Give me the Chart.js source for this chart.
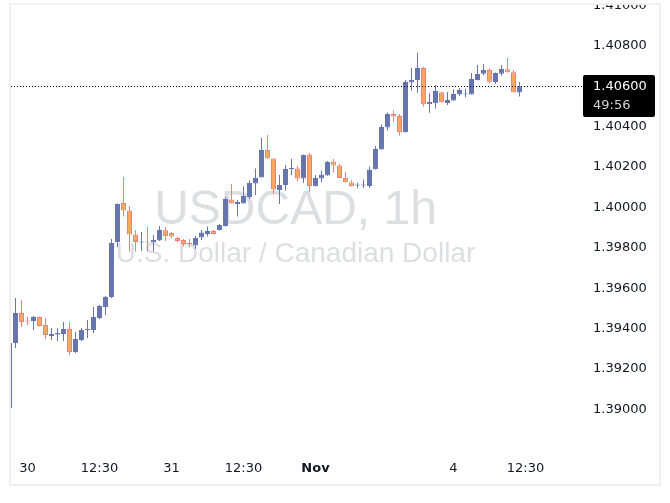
<!DOCTYPE html>
<html>
<head>
<meta charset="utf-8">
<title>USDCAD, 1h</title>
<script src="https://cdn.jsdelivr.net/npm/chart.js@4.4.1/dist/chart.umd.min.js"></script>
<style>
  html, body { margin: 0; padding: 0; background: #fff; }
  #frame { position: absolute; left: 9px; top: 3px; width: 648px; height: 479px; border: 2px solid #efefef; }
  #frame canvas { display: block; }
</style>
</head>
<body>
<div id="frame"><canvas id="chart" width="648" height="479"></canvas></div>
<script>
  'use strict';

  // hourly candles, oldest first
  var opens = [
    1.39008, 1.39329, 1.39478, 1.39441, 1.39438, 1.39458, 1.39418, 1.39364, 1.39371, 1.39374,
    1.39399, 1.39285, 1.39344, 1.39394, 1.39394, 1.39453, 1.39508, 1.39557, 1.39829, 1.40022,
    1.39985, 1.39866, 1.39827, 1.39829, 1.39827, 1.39837, 1.39887, 1.39874, 1.39849, 1.39839,
    1.39822, 1.39812, 1.39852, 1.39869, 1.39884, 1.39889, 1.39908, 1.40040, 1.40017, 1.40020,
    1.40052, 1.40119, 1.40149, 1.40285, 1.40243, 1.40087, 1.40111, 1.40191, 1.40193, 1.40144,
    1.40262, 1.40107, 1.40144, 1.40158, 1.40228, 1.40208, 1.40146, 1.40124, 1.40109, 1.40109,
    1.40107, 1.40189, 1.40287, 1.40396, 1.40463, 1.40453, 1.40372, 1.40619, 1.40631, 1.40691,
    1.40511, 1.40516, 1.40570, 1.40517, 1.40530, 1.40559, 1.40560, 1.40560, 1.40631, 1.40662,
    1.40681, 1.40621, 1.40662, 1.40684, 1.40669, 1.40569
  ];
  var highs = [
    1.39339, 1.39552, 1.39542, 1.39458, 1.39463, 1.39460, 1.39453, 1.39404, 1.39404, 1.39433,
    1.39433, 1.39384, 1.39404, 1.39443, 1.39508, 1.39517, 1.39562, 1.39844, 1.40020, 1.40151,
    1.40007, 1.39889, 1.39879, 1.39906, 1.39864, 1.39908, 1.39904, 1.39879, 1.39857, 1.39844,
    1.39844, 1.39859, 1.39889, 1.39906, 1.39889, 1.39918, 1.40052, 1.40116, 1.40037, 1.40104,
    1.40134, 1.40193, 1.40347, 1.40359, 1.40243, 1.40161, 1.40210, 1.40240, 1.40205, 1.40262,
    1.40270, 1.40161, 1.40183, 1.40230, 1.40240, 1.40215, 1.40176, 1.40135, 1.40124, 1.40139,
    1.40203, 1.40305, 1.40411, 1.40470, 1.40480, 1.40463, 1.40631, 1.40692, 1.40766, 1.40697,
    1.40565, 1.40606, 1.40572, 1.40572, 1.40585, 1.40592, 1.40588, 1.40666, 1.40705, 1.40710,
    1.40689, 1.40668, 1.40705, 1.40740, 1.40681, 1.40621
  ];
  var lows = [
    1.39003, 1.39305, 1.39409, 1.39418, 1.39394, 1.39411, 1.39349, 1.39344, 1.39339, 1.39339,
    1.39270, 1.39280, 1.39339, 1.39354, 1.39379, 1.39448, 1.39468, 1.39552, 1.39805, 1.39956,
    1.39782, 1.39782, 1.39785, 1.39782, 1.39782, 1.39834, 1.39834, 1.39849, 1.39829, 1.39807,
    1.39802, 1.39795, 1.39839, 1.39857, 1.39866, 1.39886, 1.39906, 1.40020, 1.39956, 1.40020,
    1.40042, 1.40062, 1.40148, 1.40243, 1.40067, 1.40017, 1.40084, 1.40161, 1.40129, 1.40121,
    1.40074, 1.40104, 1.40124, 1.40157, 1.40173, 1.40146, 1.40124, 1.40104, 1.40095, 1.40097,
    1.40097, 1.40188, 1.40286, 1.40381, 1.40423, 1.40356, 1.40371, 1.40578, 1.40568, 1.40499,
    1.40469, 1.40489, 1.40520, 1.40507, 1.40529, 1.40553, 1.40546, 1.40559, 1.40630, 1.40656,
    1.40615, 1.40611, 1.40652, 1.40668, 1.40569, 1.40549
  ];
  var closes = [
    1.39329, 1.39478, 1.39433, 1.39436, 1.39458, 1.39413, 1.39369, 1.39374, 1.39379, 1.39399,
    1.39285, 1.39349, 1.39394, 1.39399, 1.39458, 1.39512, 1.39557, 1.39824, 1.40017, 1.39985,
    1.39866, 1.39829, 1.39829, 1.39827, 1.39839, 1.39889, 1.39858, 1.39857, 1.39834, 1.39819,
    1.39819, 1.39849, 1.39876, 1.39884, 1.39869, 1.39913, 1.40042, 1.40020, 1.40027, 1.40057,
    1.40121, 1.40146, 1.40285, 1.40243, 1.40089, 1.40111, 1.40191, 1.40193, 1.40144, 1.40260,
    1.40107, 1.40146, 1.40163, 1.40225, 1.40208, 1.40146, 1.40125, 1.40105, 1.40111, 1.40111,
    1.40188, 1.40290, 1.40399, 1.40463, 1.40451, 1.40372, 1.40621, 1.40631, 1.40691, 1.40511,
    1.40522, 1.40577, 1.40521, 1.40532, 1.40562, 1.40582, 1.40562, 1.40636, 1.40661, 1.40681,
    1.40623, 1.40666, 1.40686, 1.40669, 1.40570, 1.40600
  ];

  // time axis: bar index of each label
  var tickIndex = [3, 15, 27, 39, 51, 74, 86];
  var tickLabels = ['30', '12:30', '31', '12:30', 'Nov', '4', '12:30'];
  var priceTicks = [1.390, 1.392, 1.394, 1.396, 1.398, 1.400, 1.402, 1.404, 1.406, 1.408, 1.410];

  var symbolTitle = 'USDCAD, 1h';
  var symbolName = 'U.S. Dollar / Canadian Dollar';
  var countdown = '49:56';

  var UP = '#6675AD';
  var DOWN_FILL = '#F9A95C';
  var DOWN_LINE = '#F47C80';
  var TXT = '#131722';
  var FONT = '"DejaVu Sans", sans-serif';

  var isUp = closes.map(function(c, i) { return c >= opens[i]; });

  var bodies = opens.map(function(o, i) {
    return { x: i, y: [Math.min(o, closes[i]), Math.max(o, closes[i])] };
  });
  var wicks = lows.map(function(l, i) {
    return { x: i, y: [l, highs[i]] };
  });

  var overlay = {
    id: 'overlay',
    beforeDatasetsDraw: function(chart) {
      var a = chart.chartArea;
      var c = chart.ctx;
      var cx = (a.left + a.right) / 2;
      c.save();
      c.fillStyle = '#dddee2';
      c.textAlign = 'center';
      c.textBaseline = 'alphabetic';
      c.font = '48px "Liberation Sans", Arial, sans-serif';
      c.fillText(symbolTitle, cx, 219);
      c.font = '28px "Liberation Sans", Arial, sans-serif';
      c.fillText(symbolName, cx, 257);
      c.restore();
    },
    afterDraw: function(chart) {
      var a = chart.chartArea;
      var c = chart.ctx;
      var last = closes[closes.length - 1];
      var y = Math.round(chart.scales.y.getPixelForValue(last)) + 0.5;
      var boxLeft = a.right + 3;

      c.save();
      c.strokeStyle = '#000';
      c.lineWidth = 1;
      c.setLineDash([1, 2]);
      c.beginPath();
      c.moveTo(a.left, y);
      c.lineTo(boxLeft, y);
      c.stroke();
      c.setLineDash([]);

      c.fillStyle = '#000';
      c.beginPath();
      c.roundRect(boxLeft, y - 11.5, 72, 42, 2);
      c.fill();

      c.textAlign = 'left';
      c.textBaseline = 'middle';
      c.fillStyle = '#fff';
      c.font = '13px ' + FONT;
      c.fillText(last.toFixed(5), a.right + 13, y);
      c.fillStyle = '#d1d4dc';
      c.fillText(countdown, a.right + 13, y + 19);
      c.restore();
    }
  };

  new Chart(document.getElementById('chart'), {
    type: 'bar',
    data: {
      datasets: [
        {
          label: 'body',
          data: bodies,
          backgroundColor: isUp.map(function(u) { return u ? UP : DOWN_FILL; }),
          borderColor: isUp.map(function(u) { return u ? UP : DOWN_LINE; }),
          borderWidth: 1,
          borderSkipped: false,
          barThickness: 5,
          minBarLength: 1,
          inflateAmount: 0,
          grouped: false,
          order: 0
        },
        {
          label: 'wick',
          data: wicks,
          backgroundColor: isUp.map(function(u) { return u ? UP : DOWN_LINE; }),
          borderWidth: 0,
          barThickness: 1,
          inflateAmount: 0,
          grouped: false,
          order: 1
        }
      ]
    },
    options: {
      responsive: false,
      animation: false,
      devicePixelRatio: 1,
      layout: { padding: 0 },
      plugins: {
        legend: { display: false },
        tooltip: { enabled: false }
      },
      scales: {
        x: {
          type: 'linear',
          offset: false,
          min: 0.25,
          max: 95.0833,
          grid: { display: false, drawTicks: false, offset: false },
          border: { display: false },
          afterBuildTicks: function(scale) {
            scale.ticks = tickIndex.map(function(v) { return { value: v }; });
          },
          afterFit: function(scale) {
            scale.height = 29;
            scale.paddingLeft = 0;
            scale.paddingRight = 0;
          },
          ticks: {
            autoSkip: false,
            maxRotation: 0,
            padding: 6,
            color: TXT,
            font: function(ctx) {
              var bold = ctx.tick && ctx.tick.label === 'Nov';
              return { family: FONT, size: 13, weight: bold ? 'bold' : 'normal' };
            },
            callback: function(v, i) { return tickLabels[i]; }
          }
        },
        y: {
          position: 'right',
          min: 1.3877475,
          max: 1.4100248,
          grid: { display: false, drawTicks: false },
          border: { display: false },
          afterBuildTicks: function(scale) {
            scale.ticks = priceTicks.map(function(v) { return { value: v }; });
          },
          afterFit: function(scale) {
            scale.width = 79;
            scale.paddingTop = 0;
            scale.paddingBottom = 0;
          },
          ticks: {
            padding: 13,
            color: TXT,
            font: { family: FONT, size: 13 },
            callback: function(v) { return v.toFixed(5); }
          }
        }
      }
    },
    plugins: [overlay]
  });
</script>
</body>
</html>
